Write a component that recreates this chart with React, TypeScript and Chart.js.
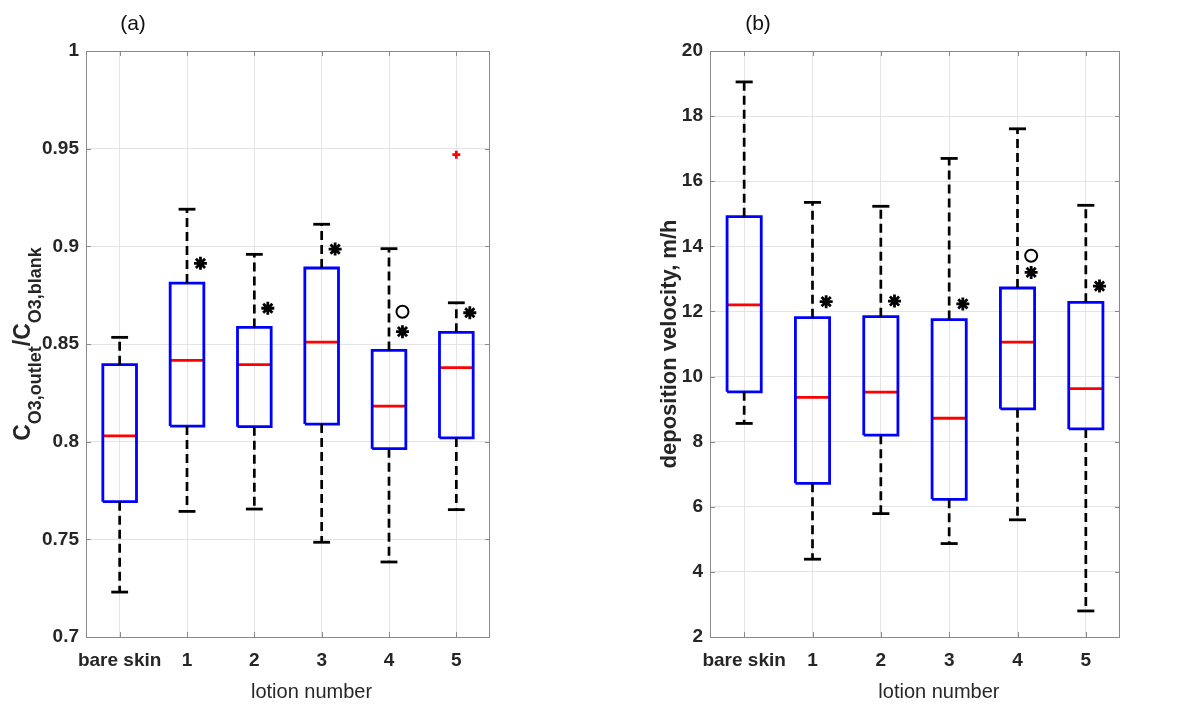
import React, { useEffect, useRef } from 'react';
import { Chart, registerables } from 'chart.js';

Chart.register(...registerables);

// ---------- data ----------
const categories = ['bare skin', '1', '2', '3', '4', '5'];

// panel (a): C_O3,outlet / C_O3,blank
const aUpper = [0.8534, 0.919, 0.8959, 0.9113, 0.8988, 0.8711];
const aQ3 = [0.8394, 0.8812, 0.8585, 0.8889, 0.8467, 0.856];
const aMedian = [0.803, 0.8416, 0.8394, 0.851, 0.8182, 0.8379];
const aQ1 = [0.7693, 0.808, 0.8077, 0.809, 0.7964, 0.8019];
const aLower = [0.723, 0.7643, 0.7655, 0.7485, 0.7384, 0.7652];
const aAsterisk = [null, 0.8913, 0.8683, 0.8986, 0.8563, 0.866];
const aCircle = [null, null, null, null, 0.8665, null];
const aOutlierCat = [5];
const aOutlierVal = [0.9469];
const aTicks = [0.7, 0.75, 0.8, 0.85, 0.9, 0.95, 1];
const aTickLabels = ['0.7', '0.75', '0.8', '0.85', '0.9', '0.95', '1'];

// panel (b): deposition velocity, m/h
const bUpper = [19.05, 15.35, 15.23, 16.7, 17.61, 15.26];
const bQ3 = [14.91, 11.81, 11.84, 11.75, 12.72, 12.28];
const bMedian = [12.2, 9.36, 9.52, 8.72, 11.06, 9.63];
const bQ1 = [9.53, 6.72, 8.2, 6.23, 9.01, 8.39];
const bLower = [8.56, 4.39, 5.79, 4.87, 5.6, 2.8];
const bAsterisk = [null, 12.3, 12.32, 12.23, 13.2, 12.78];
const bCircle = [null, null, null, null, 13.71, null];
const bOutlierCat: number[] = [];
const bOutlierVal: number[] = [];
const bTicks = [2, 4, 6, 8, 10, 12, 14, 16, 18, 20];
const bTickLabels = ['2', '4', '6', '8', '10', '12', '14', '16', '18', '20'];

// ---------- styles ----------
const FONT = '"Liberation Sans", Arial, Helvetica, sans-serif';
const TEXT = '#262626';
const GRID = '#e4e4e4';
const FRAME = '#8a8a8a';
const BOX_HALF = 0.25;
const CAP_HALF = 0.125;
const MARK_OFFSET = 0.2;

function line(points: { x: number; y: number }[], color: string, width: number, dash: number[] = []) {
  return {
    data: points,
    showLine: true,
    borderColor: color,
    backgroundColor: color,
    borderWidth: width,
    borderDash: dash,
    pointRadius: 0,
    pointHoverRadius: 0,
    tension: 0,
    fill: false,
    borderCapStyle: 'butt',
    borderJoinStyle: 'miter',
  };
}

function buildDatasets(
  upper: number[], q3: number[], med: number[], q1: number[], lower: number[],
  ast: (number | null)[], circ: (number | null)[], outCat: number[], outVal: number[]
) {
  const ds: any[] = [];
  categories.forEach((_, i) => {
    ds.push(line([{ x: i, y: q3[i] }, { x: i, y: upper[i] }], '#000', 2.7, [9, 5]));
    ds.push(line([{ x: i, y: q1[i] }, { x: i, y: lower[i] }], '#000', 2.7, [9, 5]));
    ds.push(line([{ x: i - CAP_HALF, y: upper[i] }, { x: i + CAP_HALF, y: upper[i] }], '#000', 2.8));
    ds.push(line([{ x: i - CAP_HALF, y: lower[i] }, { x: i + CAP_HALF, y: lower[i] }], '#000', 2.8));
    ds.push(line([
      { x: i - BOX_HALF, y: q1[i] }, { x: i + BOX_HALF, y: q1[i] },
      { x: i + BOX_HALF, y: q3[i] }, { x: i - BOX_HALF, y: q3[i] },
      { x: i - BOX_HALF, y: q1[i] },
    ], '#0000ff', 2.8));
    ds.push(line([{ x: i - BOX_HALF, y: med[i] }, { x: i + BOX_HALF, y: med[i] }], '#ff0000', 2.8));
  });
  ds.push({
    data: ast.map((v, i) => (v == null ? null : { x: i + MARK_OFFSET, y: v })).filter(Boolean),
    showLine: false, pointStyle: 'star', pointRadius: 6.5, borderWidth: 2.8,
    borderColor: '#000', backgroundColor: '#000', pointHoverRadius: 6.5,
  });
  ds.push({
    data: circ.map((v, i) => (v == null ? null : { x: i + MARK_OFFSET, y: v })).filter(Boolean),
    showLine: false, pointStyle: 'circle', pointRadius: 6, borderWidth: 2,
    borderColor: '#000', backgroundColor: 'rgba(0,0,0,0)', pointHoverRadius: 6,
  });
  ds.push({
    data: outCat.map((c, k) => ({ x: c, y: outVal[k] })),
    showLine: false, pointStyle: 'cross', pointRadius: 4, borderWidth: 2.8,
    borderColor: '#ff0000', backgroundColor: '#ff0000', pointHoverRadius: 4,
  });
  return ds;
}

type YRun = { text: string; sub: boolean };

const decorPlugin = {
  id: 'decor',
  beforeDatasetsDraw(chart: any) {
    const { ctx, chartArea: a, scales } = chart;
    ctx.save();
    ctx.strokeStyle = FRAME;
    ctx.lineWidth = 1;
    ctx.strokeRect(Math.round(a.left) + 0.5, Math.round(a.top) + 0.5, Math.round(a.right - a.left) - 1, Math.round(a.bottom - a.top));
    // inward ticks
    const tl = 5;
    ctx.beginPath();
    scales.y.ticks.forEach((t: any) => {
      const y = Math.round(scales.y.getPixelForValue(t.value)) + 0.5;
      ctx.moveTo(a.left, y); ctx.lineTo(a.left + tl, y);
      ctx.moveTo(a.right, y); ctx.lineTo(a.right - tl, y);
    });
    scales.x.ticks.forEach((t: any) => {
      const x = Math.round(scales.x.getPixelForValue(t.value)) + 0.5;
      ctx.moveTo(x, a.bottom); ctx.lineTo(x, a.bottom - tl);
      ctx.moveTo(x, a.top); ctx.lineTo(x, a.top + tl);
    });
    ctx.stroke();
    ctx.restore();
  },
  afterDraw(chart: any, _args: any, opts: any) {
    const { ctx, chartArea: a, scales } = chart;
    ctx.save();
    // panel letter
    ctx.fillStyle = '#111';
    ctx.font = `21px ${FONT}`;
    ctx.textAlign = 'center';
    ctx.textBaseline = 'middle';
    ctx.fillText(opts.panel, opts.panelX, 24);
    // x title
    ctx.fillStyle = TEXT;
    ctx.font = `20px ${FONT}`;
    ctx.fillText(opts.xTitle, scales.x.getPixelForValue(opts.xTitleAt), 692);
    // y title
    const yc = (a.top + a.bottom) / 2 + (opts.yShift || 0);
    ctx.translate(opts.yBase, yc);
    ctx.rotate(-Math.PI / 2);
    ctx.textAlign = 'left';
    ctx.textBaseline = 'alphabetic';
    const runs: YRun[] = opts.yRuns;
    const mainF = `bold ${opts.yMain}px ${FONT}`;
    const subF = `bold ${opts.ySub}px ${FONT}`;
    let total = 0;
    runs.forEach((r) => { ctx.font = r.sub ? subF : mainF; total += ctx.measureText(r.text).width; });
    let x = -total / 2;
    runs.forEach((r) => {
      ctx.font = r.sub ? subF : mainF;
      ctx.fillText(r.text, x, r.sub ? opts.subShift : 0);
      x += ctx.measureText(r.text).width;
    });
    ctx.restore();
  },
};

function makeConfig(p: any) {
  const font = { family: FONT, size: 19, weight: 'bold' as const };
  return {
    type: 'scatter',
    data: { datasets: p.datasets },
    plugins: [decorPlugin],
    options: {
      animation: false,
      responsive: false,
      events: [],
      layout: { padding: { left: 0, top: 51, right: p.padRight, bottom: 0 } },
      plugins: {
        legend: { display: false },
        tooltip: { enabled: false },
        decor: p.decor,
      },
      scales: {
        x: {
          type: 'linear',
          min: -0.5,
          max: 5.5,
          afterBuildTicks: (s: any) => { s.ticks = categories.map((_, i) => ({ value: i })); },
          afterFit: (s: any) => { s.height = 67; },
          ticks: {
            callback: (v: any) => categories[v] ?? '',
            font, color: TEXT, padding: 12, maxRotation: 0, autoSkip: false,
          },
          grid: { color: GRID, drawTicks: false, lineWidth: 1 },
          border: { display: false },
        },
        y: {
          type: 'linear',
          min: p.yMin,
          max: p.yMax,
          afterBuildTicks: (s: any) => { s.ticks = p.ticks.map((v: number) => ({ value: v })); },
          afterFit: (s: any) => { s.width = p.yWidth; },
          ticks: {
            callback: (_v: any, i: number) => p.tickLabels[i],
            font, color: TEXT, padding: 7, autoSkip: false,
          },
          grid: { color: GRID, drawTicks: false, lineWidth: 1 },
          border: { display: false },
        },
      },
    },
  };
}

function Panel(props: { config: any; left: number }) {
  const ref = useRef<HTMLCanvasElement | null>(null);
  useEffect(() => {
    if (!ref.current) return;
    const chart = new Chart(ref.current, props.config);
    return () => chart.destroy();
  }, []);
  return (
    <div style={{ position: 'absolute', left: props.left, top: 0, width: 600, height: 704 }}>
      <canvas ref={ref} width={600} height={704} style={{ width: 600, height: 704, display: 'block' }} />
    </div>
  );
}

export default function App() {
  const configA = makeConfig({
    datasets: buildDatasets(aUpper, aQ3, aMedian, aQ1, aLower, aAsterisk, aCircle, aOutlierCat, aOutlierVal),
    yMin: 0.7, yMax: 1, ticks: aTicks, tickLabels: aTickLabels,
    yWidth: 86, padRight: 110,
    decor: {
      panel: '(a)', panelX: 133, xTitle: 'lotion number', xTitleAt: 2.85,
      yBase: 30, yMain: 23, ySub: 18, subShift: 11,
      yRuns: [
        { text: 'C', sub: false }, { text: 'O3,outlet', sub: true },
        { text: '/C', sub: false }, { text: 'O3,blank', sub: true },
      ],
    },
  });
  const configB = makeConfig({
    datasets: buildDatasets(bUpper, bQ3, bMedian, bQ1, bLower, bAsterisk, bCircle, bOutlierCat, bOutlierVal),
    yMin: 2, yMax: 20, ticks: bTicks, tickLabels: bTickLabels,
    yWidth: 110, padRight: 80,
    decor: {
      panel: '(b)', panelX: 158, xTitle: 'lotion number', xTitleAt: 2.85,
      yBase: 76, yMain: 22, ySub: 22, subShift: 0,
      yRuns: [{ text: 'deposition velocity, m/h', sub: false }],
    },
  });
  return (
    <div style={{ position: 'fixed', left: 0, top: 0, width: 1200, height: 704, background: '#fff', overflow: 'hidden' }}>
      <Panel config={configA} left={0} />
      <Panel config={configB} left={600} />
    </div>
  );
}
